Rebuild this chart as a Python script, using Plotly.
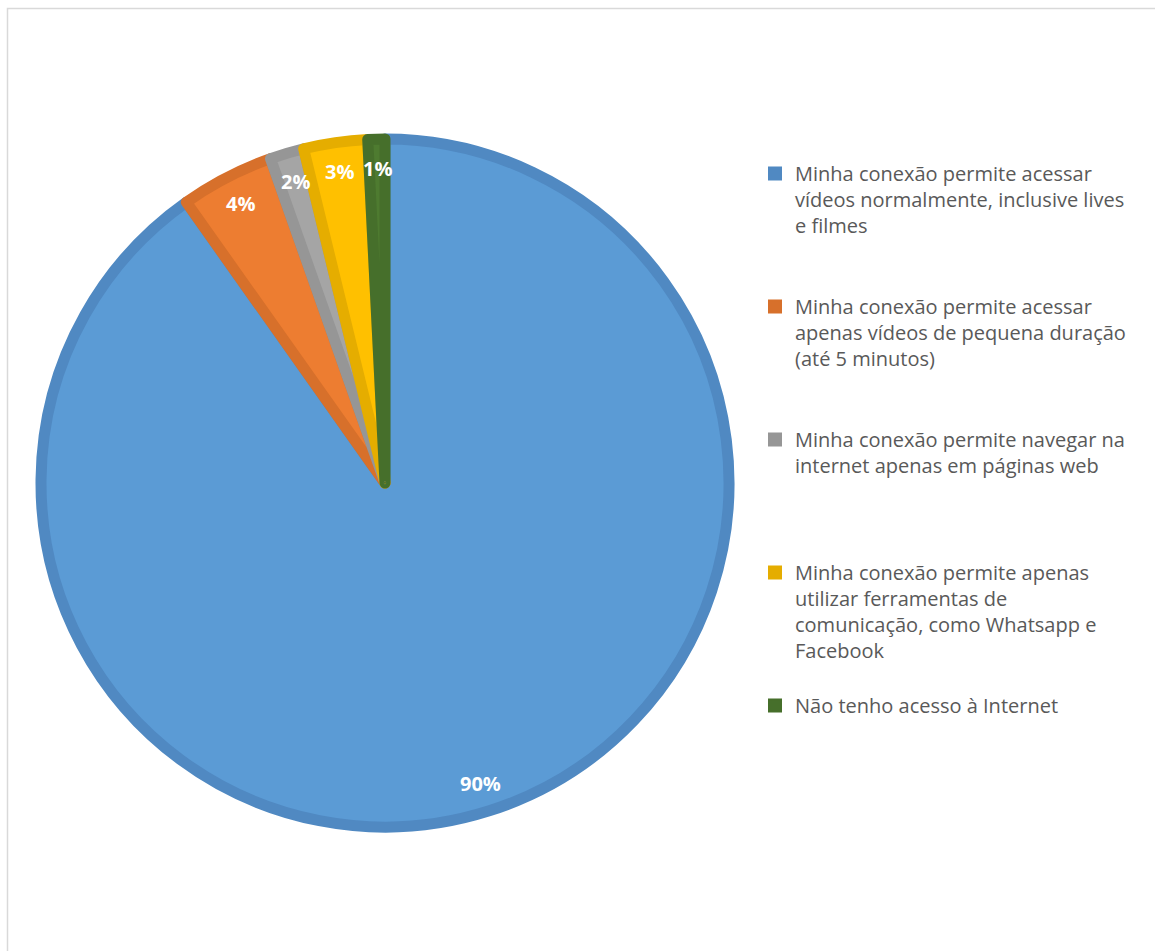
import numpy as np
import plotly.graph_objects as go

# Survey answers about home internet connection quality
categories = [
    "Minha conexão permite acessar<br>vídeos normalmente, inclusive lives<br>e filmes",
    "Minha conexão permite acessar<br>apenas vídeos de pequena duração<br>(até 5 minutos)",
    "Minha conexão permite navegar na<br>internet apenas em páginas web",
    "Minha conexão permite apenas<br>utilizar ferramentas de<br>comunicação, como Whatsapp e<br>Facebook",
    "Não tenho acesso à Internet",
]
responses = [902, 44, 16, 30, 8]

fill_colors = ["#5B9BD5", "#ED7D31", "#A5A5A5", "#FFC000", "#4E7B30"]
edge_colors = ["#5089C2", "#D7702B", "#969696", "#E5AD00", "#466F2B"]

# pad legend entries to equal height so the items are evenly spaced
LINES_PER_ITEM = 5
legend_names = []
for name in categories:
    n = name.count("<br>") + 1
    legend_names.append(name + "<br> " * (LINES_PER_ITEM - n))

W, H = 1155, 951
cx, cy, R = 385, 483, 344  # pie centre and path radius in px
edge_w = 11
label_r = 315              # radius at which the percentage labels sit

pie_domain = dict(
    x=[(cx - R) / W, (cx + R) / W],
    y=[1 - (cy + R) / H, 1 - (cy - R) / H],
)

fig = go.Figure()

# main pie, with a darker inset edge on each slice
fig.add_trace(
    go.Pie(
        labels=legend_names,
        values=responses,
        sort=False,
        direction="clockwise",
        rotation=0,
        marker=dict(colors=fill_colors, line=dict(color=edge_colors, width=edge_w)),
        textinfo="none",
        hoverinfo="label+percent",
        domain=pie_domain,
        showlegend=False,
    )
)

# point-sized copy of the pie that supplies solid legend swatches
eps = 0.0002
fig.add_trace(
    go.Pie(
        labels=legend_names,
        values=responses,
        sort=False,
        direction="clockwise",
        rotation=0,
        marker=dict(colors=edge_colors, line=dict(color=edge_colors, width=2)),
        textinfo="none",
        hoverinfo="skip",
        domain=dict(x=[cx / W - eps, cx / W + eps], y=[1 - cy / H - eps, 1 - cy / H + eps]),
        showlegend=True,
    )
)

# percentage labels near the outer end of each slice
vals = np.array(responses, dtype=float)
share = vals / vals.sum()
mid = np.cumsum(share) - share / 2
theta = 2 * np.pi * mid
annotations = []
for s, t in zip(share, theta):
    px = cx + label_r * np.sin(t)
    py = cy - label_r * np.cos(t)
    annotations.append(
        dict(
            x=px / W, y=1 - py / H, xref="paper", yref="paper",
            text=f"{s * 100:.0f}%", showarrow=False,
            font=dict(family="Open Sans", size=20, color="white", weight="bold"),
            xanchor="center", yanchor="middle",
        )
    )

fig.update_layout(
    width=W,
    height=H,
    margin=dict(l=0, r=0, t=0, b=0),
    paper_bgcolor="white",
    plot_bgcolor="white",
    showlegend=True,
    annotations=annotations,
    legend=dict(
        x=755 / W,
        y=1 - 154 / H,
        xanchor="left",
        yanchor="top",
        valign="top",
        font=dict(family="Open Sans", size=20, color="#595959"),
        bgcolor="rgba(0,0,0,0)",
    ),
    shapes=[
        dict(
            type="rect", xref="paper", yref="paper",
            x0=7.5 / W, x1=1.05, y0=-0.05, y1=1 - 8.5 / H,
            line=dict(color="#D9D9D9", width=1.5),
            fillcolor="rgba(0,0,0,0)", layer="below",
        )
    ],
)

fig.write_html("out.html")
